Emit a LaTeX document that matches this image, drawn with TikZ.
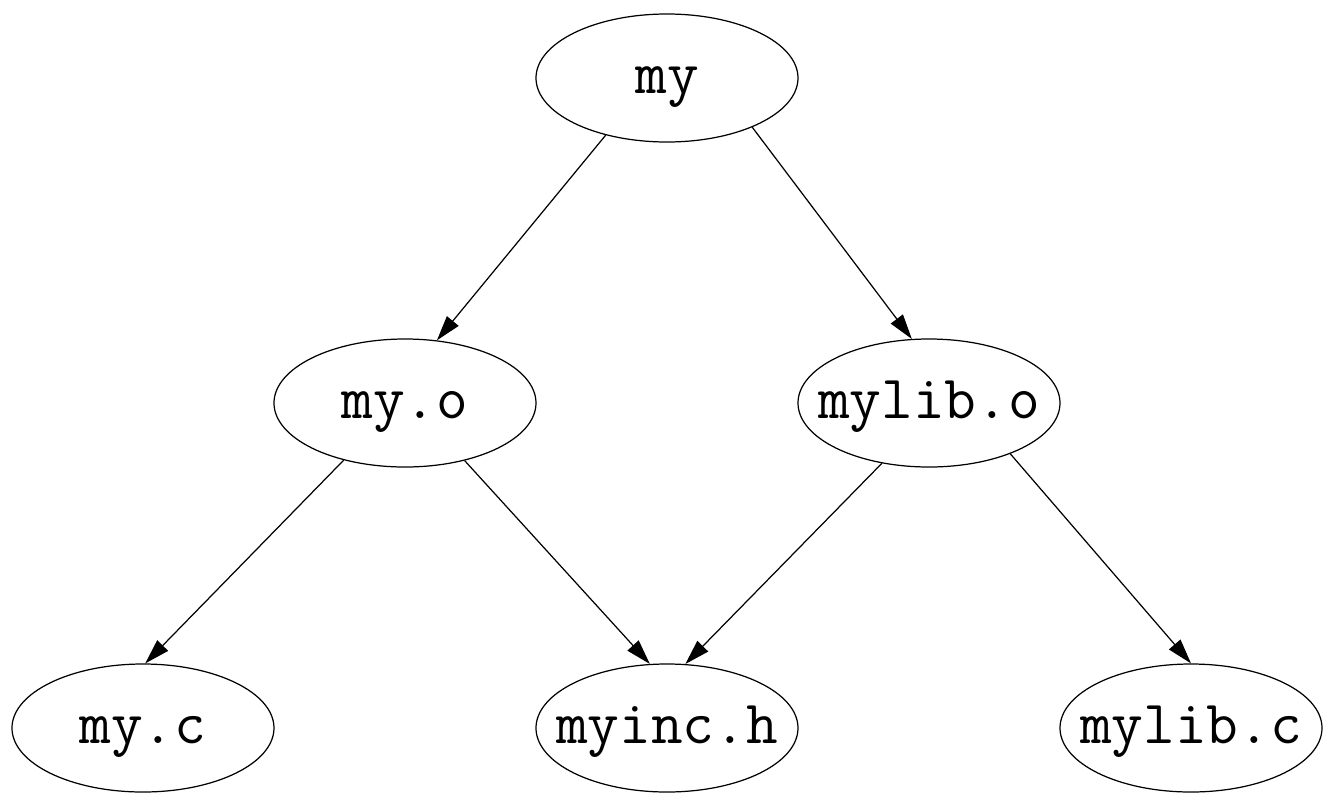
\documentclass[tikz,border=0pt]{standalone}
\usetikzlibrary{positioning}
\usetikzlibrary{shapes.geometric}
\usetikzlibrary{arrows.meta}
\tikzset{>=latex}
\tikzset{file/.style={draw, ellipse, line width=0.7pt, minimum width=5.24cm, minimum height=2.56cm, inner sep=0pt, text height=0.6cm, text depth=0pt, font=\fontsize{35}{38}\selectfont\ttfamily}}
\tikzset{dep/.style={line width=0.7pt, -{Triangle[length=0.5cm, width=0.3cm]}}}
\newcommand{\fname}[1]{\makebox[0pt]{#1}}

\begin{document}
\begin{tikzpicture}[node distance=6.5cm and 5.24cm, on grid]

\useasboundingbox (-13.34, 1.56) rectangle (13.16, -14.34);

\node[file] (my) at (0, 0) {\fname{my}};
\node[file, below left=of my] (myo) {\fname{my.o}};
\node[file, below right=of my] (mylibo) {\fname{mylib.o}};
\node[file, below left=of myo] (myc) {\fname{my.c}};
\node[file, below right=of myo] (myinch) {\fname{myinc.h}};
\node[file, below right=of mylibo] (mylibc) {\fname{mylib.c}};

\draw[dep] (my.223) -- (myo.63);
\draw[dep] (my.330) -- (mylibo.105);
\draw[dep] (myo.223) -- (myc.88);
\draw[dep] (myo.316) -- (myinch.105);
\draw[dep] (mylibo.232) -- (myinch.74);
\draw[dep] (mylibo.328) -- (mylibc.90);

\end{tikzpicture}
\end{document}
